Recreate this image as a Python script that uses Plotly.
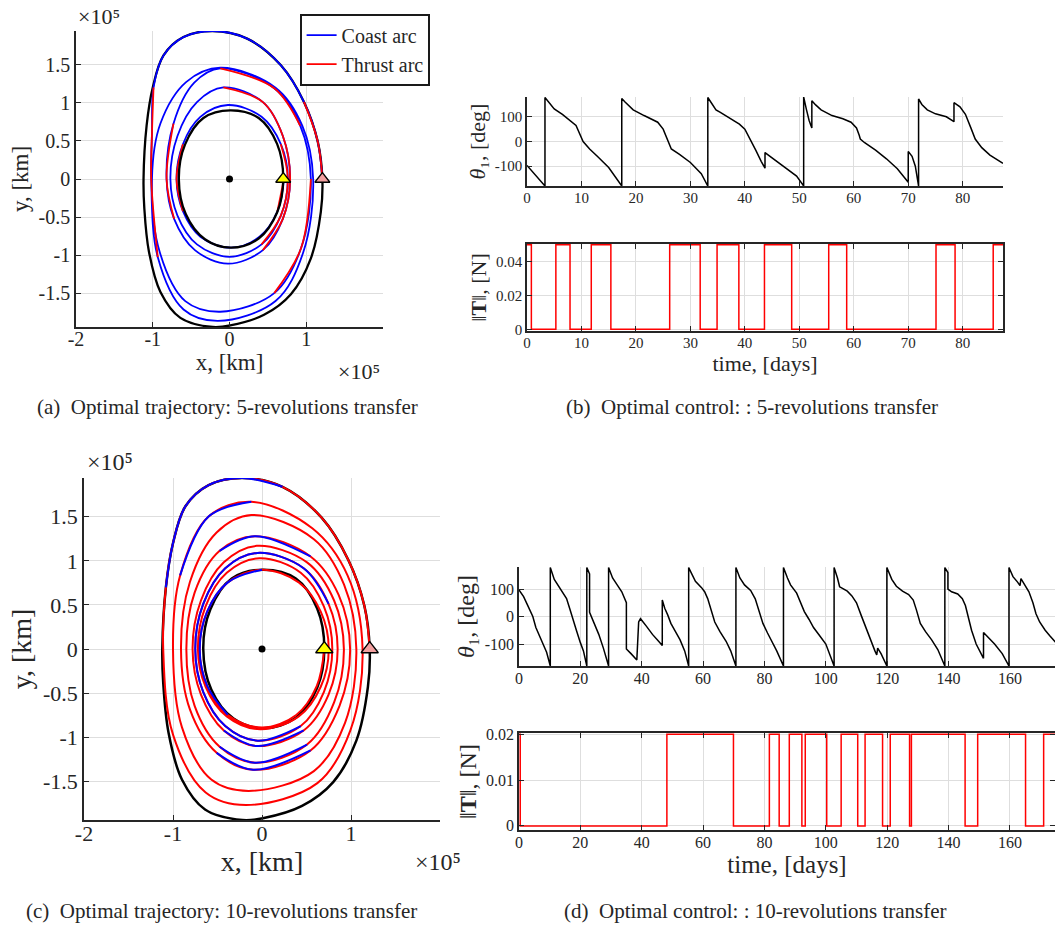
import plotly.graph_objects as go

FONT = "Liberation Serif"
W, H = 1055, 929
INK = "#262626"

# ---------------- data ----------------
# initial (inner) and final (outer) orbits, units of 1e5 km
init_x = [0.70, 0.62, 0.38, 0.02, -0.32, -0.57, -0.66, -0.58, -0.34, 0.01, 0.38, 0.62, 0.70]
init_y = [0.00, -0.44, -0.78, -0.90, -0.79, -0.46, 0.00, 0.45, 0.80, 0.90, 0.80, 0.46, 0.00]
final_x = [1.21, 1.19, 1.06, 0.80, 0.45, 0.01, -0.22, -0.64, -0.90, -1.05, -1.11, -1.12, -1.08, -1.00, -0.86, -0.60, -0.22, 0.23, 0.67, 0.97, 1.15, 1.21]
final_y = [0.00, -0.43, -1.04, -1.51, -1.78, -1.92, -1.94, -1.82, -1.48, -0.95, -0.38, 0.00, 0.70, 1.20, 1.62, 1.86, 1.94, 1.84, 1.49, 1.01, 0.49, 0.00]

start_pt = (0.70, 0.0)
end_pt = (1.21, 0.0)
moon_pt = (0.0, 0.0)

# (a) 5-revolution transfer path
a_x = [0.71, 0.625, 0.391, 0.02, -0.380, -0.607, -0.69, -0.607, -0.380, -0.02, 0.418, 0.669,
       0.76, 0.669, 0.418, 0.0, -0.424, -0.678, -0.77, -0.678, -0.424, -0.08, 0.435, 0.695,
       0.79, 0.695, 0.435, -0.02, -0.451, -0.722, -0.82, -0.730, -0.459, -0.12, 0.583, 0.922,
       1.06, 0.933, 0.583, -0.12, -0.576, -0.909, -1.01, -0.899, -0.566, -0.12, 0.600, 0.948,
       1.09, 0.959, 0.600, -0.15, -0.599, -0.935, -1.02, -1.01, -0.99, -0.86, -0.6, -0.22, 0.23, 0.67, 0.97, 1.15, 1.21]
a_y = [0, -0.423, -0.756, -0.90, -0.756, -0.423, 0, 0.456, 0.815, 0.97, 0.815, 0.456,
       0, -0.479, -0.857, -1.02, -0.857, -0.479, 0, 0.564, 1.008, 1.20, 1.008, 0.564,
       0, -0.522, -0.932, -1.11, -0.932, -0.522, 0, 0.725, 1.262, 1.45, 1.189, 0.696,
       0, -0.905, -1.496, -1.74, -1.601, -0.957, 0, 0.730, 1.270, 1.46, 1.197, 0.701,
       0, -0.967, -1.600, -1.86, -1.711, -1.023, 0, 0.6, 1.2, 1.62, 1.86, 1.94, 1.84, 1.49, 1.01, 0.49, 0]
a_thrust_arcs = [(0, 1), (5, 7), (11, 14), (21, 26), (29, 31), (33, 35), (36, 38), (53, 56), (62, 64)]

# (c) 10-revolution transfer path
c_x = [0.70, 0.616, 0.385, 0.0, -0.385, -0.616, -0.70, -0.616, -0.385, 0.0, 0.413, 0.66,
       0.75, 0.66, 0.413, -0.02, -0.396, -0.634, -0.72, -0.634, -0.396, -0.03, 0.435, 0.695,
       0.79, 0.695, 0.435, -0.05, -0.413, -0.66, -0.75, -0.66, -0.413, -0.05, 0.468, 0.748,
       0.85, 0.748, 0.468, -0.06, -0.429, -0.686, -0.78, -0.686, -0.429, -0.06, 0.506, 0.81,
       0.92, 0.81, 0.506, -0.08, -0.476, -0.757, -0.85, -0.757, -0.476, -0.08, 0.545, 0.861,
       0.99, 0.871, 0.545, -0.10, -0.510, -0.810, -0.91, -0.810, -0.510, -0.12, 0.583, 0.922,
       1.06, 0.933, 0.583, -0.15, -0.57, -0.90, -1.0, -0.92, -0.60, -0.12, 0.565, 0.961,
       1.13, 0.994, 0.622, -0.18, -0.633, -0.999, -1.11, -1.08, -1.0, -0.86, -0.6, -0.22, 0.23, 0.67, 0.97, 1.15, 1.21]
c_y = [0, -0.418, -0.748, -0.89, -0.748, -0.418, 0, 0.423, 0.756, 0.90, 0.756, 0.423,
       0, -0.428, -0.764, -0.91, -0.764, -0.428, 0, 0.484, 0.865, 1.03, 0.865, 0.484,
       0, -0.489, -0.874, -1.04, -0.874, -0.489, 0, 0.512, 0.916, 1.09, 0.916, 0.512,
       0, -0.517, -0.924, -1.10, -0.924, -0.517, 0, 0.550, 0.983, 1.17, 0.983, 0.550,
       0, -0.606, -1.084, -1.29, -1.109, -0.645, 0, 0.64, 1.114, 1.28, 1.05, 0.614,
       0, -0.644, -1.151, -1.37, -1.178, -0.685, 0, 0.760, 1.322, 1.52, 1.246, 0.730,
       0, -0.837, -1.385, -1.61, -1.481, -0.886, 0, 0.835, 1.503, 1.67, 1.369, 0.835,
       0, -0.920, -1.522, -1.77, -1.628, -0.974, 0, 0.7, 1.2, 1.62, 1.86, 1.94, 1.84, 1.49, 1.01, 0.49, 0]
c_coast_arcs = [(4, 9), (26, 35), (38, 40), (50, 52), (56, 58), (62, 64), (79, 81), (91, 96)]

# (b) control, 5 revolutions
b_t = [0, 3.3, 3.3, 4.0, 5.0, 6.5, 8.0, 9.0, 10.3, 11.5, 13.0, 15.0, 17.4,
       17.4, 18.0, 19.5, 21.5, 24.0, 25.0, 25.7, 26.5, 28.0, 30.0, 32.0, 33.2,
       33.2, 34.0, 34.7, 35.5, 37.5, 39.0, 40.0, 41.0, 42.0, 43.0, 43.7,
       43.7, 45.5, 47.5, 49.5, 50.8,
       50.8, 51.3, 51.8, 52.3, 52.3, 53.0, 54.0, 56.0, 58.0, 59.5, 60.5, 61.0, 61.2, 62.0, 64.0, 66.0, 68.0, 70.0,
       70.0, 70.7, 71.3, 71.9,
       71.9, 72.5, 73.5, 75.0, 77.0, 78.4, 78.4, 79.5, 80.5, 81.5, 82.3, 83.5, 85.0, 87.4]
b_theta = [-97, -180, 178, 160, 132, 110, 84, 65, 0, -30, -62, -105, -180,
           174, 160, 128, 105, 78, 50, 10, -30, -52, -85, -130, -180,
           178, 150, 128, 118, 92, 70, 50, 10, -35, -80, -108,
           -45, -75, -105, -140, -180,
           180, 130, 85, 55, 165, 148, 128, 105, 92, 78, 55, 25, 10, -5, -35, -70, -110, -165,
           -40, -60, -100, -180,
           172, 150, 128, 112, 100, 80, 157, 140, 110, 55, 10, -25, -55, -88]
b_switch_t = [0, 0.8, 5.3, 7.9, 11.8, 15.4, 26.2, 31.8, 34.9, 38.9, 43.6, 48.6, 55.4, 58.7, 75.1, 78.6, 85.6, 87.4]
b_switch_T = [0.05, 0, 0.05, 0, 0.05, 0, 0.05, 0, 0.05, 0, 0.05, 0, 0.05, 0, 0.05, 0, 0.05, 0.05]

# (d) control, 10 revolutions
d_t = [0, 1.5, 2.6, 3.5, 4.5, 5.5, 6.5, 8.0, 9.0, 10.2,
       10.2, 11.5, 12.5, 14.0, 15.5, 16.5, 17.5, 18.7, 20.0, 21.0, 22.1,
       22.1, 22.8, 23.0, 23.0, 24.5, 26.0, 27.5, 29.2,
       29.2, 30.5, 32.0, 33.5, 35.0, 35.0, 36.5, 37.5, 38.4, 39.0, 39.6, 41.5, 43.5, 45.5, 46.7,
       46.7, 47.5, 48.5, 49.5, 51.0, 52.5, 54.0, 55.3,
       55.3, 56.5, 57.5, 59.5, 60.5, 61.5, 62.5, 63.8, 65.5, 67.5, 69.0, 70.7,
       70.7, 72.0, 73.5, 75.5, 77.0, 78.5, 79.5, 81.0, 82.0, 82.5, 84.0, 86.2,
       86.2, 87.5, 88.5, 90.5, 92.0, 93.0, 94.5, 96.0, 98.0, 100.0, 102.7,
       102.7, 103.8, 104.5, 105.0, 107.0, 108.5, 110.0, 111.5, 113.0, 114.5, 116.0, 116.6, 116.9, 118.0, 119.9,
       119.9, 121.5, 123.0, 125.0, 127.0, 128.5, 129.5, 130.8, 132.5, 134.5, 136.5, 138.8,
       138.8, 139.8, 139.8, 141.0, 143.0, 144.5, 145.5, 146.5, 147.5, 149.0, 150.5, 151.4,
       151.4, 153.0, 155.0, 157.5, 159.7,
       159.7, 161.0, 162.5, 163.3, 163.6, 165.0, 166.2, 167.5, 168.5, 169.7, 171.5, 173.0, 175.0]
d_theta = [97, 72, 46, 25, 0, -40, -65, -100, -130, -180,
           178, 135, 118, 95, 65, 30, -10, -50, -95, -125, -180,
           178, 160, 155, 15, -25, -65, -115, -180,
           178, 140, 115, 90, 50, -118, -135, -148, -158, -20, -8, -35, -65, -90, -105,
           60, 30, 5, -25, -55, -85, -125, -180,
           178, 150, 128, 105, 90, 65, 30, -20, -55, -90, -125, -180,
           178, 140, 115, 95, 64, 15, -25, -60, -80, -95, -125, -180,
           178, 140, 115, 85, 45, 18, -10, -40, -70, -100, -180,
           178, 140, 108, 105, 92, 75, 50, 5, -40, -80, -125, -140, -115, -135, -180,
           178, 135, 110, 92, 80, 60, 25, -25, -55, -85, -120, -180,
           178, 160, 100, 90, 82, 65, 40, -5, -50, -100, -130, -152,
           -58, -75, -100, -135, -180,
           178, 145, 125, 112, 138, 110, 90, 50, 10, -20, -50, -70, -95]
d_switch_t = [0, 0.4, 48.2, 69.9, 81.6, 84.8, 88.1, 92.2, 93.3, 100.3, 105.0, 110.4, 112.8, 118.5,
              121.0, 127.3, 127.9, 145.4, 149.5, 165.1, 171.0, 175.0]
d_switch_T = [0.02, 0, 0.02, 0, 0.02, 0, 0.02, 0, 0.02, 0, 0.02, 0, 0.02, 0,
              0.02, 0, 0.02, 0, 0.02, 0, 0.02, 0.02]

traj_ticks_x = [-2, -1, 0, 1]
traj_ticks_y = [-1.5, -1, -0.5, 0, 0.5, 1, 1.5]
theta_ticks = [-100, 0, 100]
b_time_ticks = [0, 10, 20, 30, 40, 50, 60, 70, 80]
d_time_ticks = [0, 20, 40, 60, 80, 100, 120, 140, 160]
b_T_ticks = [0, 0.02, 0.04]
d_T_ticks = [0, 0.01, 0.02]


def lbl(v):
    return "%g" % v


# ---------------- figure ----------------
fig = go.Figure()


def curve(x, y, color, width, xa, ya, name=None, legend=False, shape="spline"):
    line = dict(color=color, width=width, shape=shape)
    if shape == "spline":
        line["smoothing"] = 1.0
    return go.Scatter(x=x, y=y, mode="lines", xaxis=xa, yaxis=ya, name=name,
                      showlegend=legend, hoverinfo="skip", line=line)


def markers(xa, ya, size):
    return [go.Scatter(x=[moon_pt[0]], y=[moon_pt[1]], mode="markers", xaxis=xa, yaxis=ya,
                       showlegend=False, hoverinfo="skip",
                       marker=dict(symbol="circle", size=7, color="black")),
            go.Scatter(x=[start_pt[0]], y=[start_pt[1]], mode="markers", xaxis=xa, yaxis=ya,
                       showlegend=False, hoverinfo="skip",
                       marker=dict(symbol="triangle-up", size=size, color="#ffff00",
                                   line=dict(color="black", width=1.3))),
            go.Scatter(x=[end_pt[0]], y=[end_pt[1]], mode="markers", xaxis=xa, yaxis=ya,
                       showlegend=False, hoverinfo="skip",
                       marker=dict(symbol="triangle-up", size=size, color="#f2a0a0",
                                   line=dict(color="black", width=1.3)))]


# panel (a)
fig.add_trace(curve(final_x, final_y, "black", 2.3, "x", "y"))
fig.add_trace(curve(a_x, a_y, "#0000ff", 1.8, "x", "y", name="Coast arc", legend=True))
for k, (i, j) in enumerate(a_thrust_arcs):
    fig.add_trace(curve(a_x[i:j + 1], a_y[i:j + 1], "#ff0000", 1.8, "x", "y",
                        name="Thrust arc", legend=(k == 0)))
fig.add_trace(curve(init_x, init_y, "black", 2.3, "x", "y"))
for t in markers("x", "y", 13):
    fig.add_trace(t)

# panel (c)
fig.add_trace(curve(final_x, final_y, "black", 2.5, "x4", "y4"))
fig.add_trace(curve(init_x, init_y, "black", 2.5, "x4", "y4"))
fig.add_trace(curve(c_x, c_y, "#ff0000", 2.0, "x4", "y4"))
for (i, j) in c_coast_arcs:
    fig.add_trace(curve(c_x[i:j + 1], c_y[i:j + 1], "#0000ff", 2.0, "x4", "y4"))
for t in markers("x4", "y4", 15):
    fig.add_trace(t)

# panel (b)
fig.add_trace(curve(b_t, b_theta, "black", 1.5, "x2", "y2", shape="linear"))
fig.add_trace(curve(b_switch_t, b_switch_T, "#ff0000", 1.5, "x3", "y3", shape="hv"))
# panel (d)
fig.add_trace(curve(d_t, d_theta, "black", 1.5, "x5", "y5", shape="linear"))
fig.add_trace(curve(d_switch_t, d_switch_T, "#ff0000", 1.5, "x6", "y6", shape="hv"))


def px_x(a, b):
    return [a / W, b / W]


def px_y(top, bottom):
    return [1 - bottom / H, 1 - top / H]


def axis(domain, rng, ticks, size, anchor, mirror=False, title=None, tsize=22, standoff=4, lstand=0):
    d = dict(domain=domain, range=rng, tickmode="array", tickvals=ticks,
             ticktext=[lbl(v) for v in ticks],
             tickfont=dict(family=FONT, size=size, color=INK),
             showline=True, linecolor=INK, linewidth=1.6, mirror=mirror,
             ticks="inside", ticklen=5, tickwidth=1.1, tickcolor=INK,
             showgrid=True, gridcolor="#dedede", gridwidth=1.2, zeroline=False,
             anchor=anchor, fixedrange=True, automargin=False,
             ticklabelstandoff=lstand)
    if title:
        d["title"] = dict(text=title, font=dict(family=FONT, size=tsize, color=INK), standoff=standoff)
    return d


theta_title = "<i>θ</i>\u2081, [deg]"
thrust_title = "‖<b>T</b>‖, [N]"

fig.update_layout(
    width=W, height=H, autosize=False,
    margin=dict(l=0, r=0, t=0, b=0, autoexpand=False),
    paper_bgcolor="white", plot_bgcolor="white",
    hovermode=False,
    font=dict(family=FONT, color=INK),
    # (a)
    xaxis=axis(px_x(76, 383), [-2, 2], traj_ticks_x, 20, "y", title="x, [km]", tsize=23, standoff=2, lstand=-7),
    yaxis=axis(px_y(31, 327), [-1.94, 1.94], traj_ticks_y, 20, "x", title="y, [km]", tsize=23, standoff=3),
    # (b)
    xaxis2=axis(px_x(527, 1003), [0, 87.4], b_time_ticks, 15, "y2", lstand=-3),
    yaxis2=axis(px_y(97, 186), [-180, 180], theta_ticks, 15, "x2", title=theta_title, tsize=22, standoff=3),
    xaxis3=axis(px_x(527, 1003), [0, 87.4], b_time_ticks, 15, "y3", mirror="ticks",
                title="time, [days]", tsize=22, standoff=2, lstand=-3),
    yaxis3=axis(px_y(244, 331), [-0.001, 0.0505], b_T_ticks, 15, "x3", mirror="ticks",
                title=thrust_title, tsize=22, standoff=3),
    # (c)
    xaxis4=axis(px_x(84, 440), [-2, 2], traj_ticks_x, 22, "y4", title="x, [km]", tsize=28, standoff=2, lstand=-7),
    yaxis4=axis(px_y(478, 820), [-1.94, 1.94], traj_ticks_y, 22, "x4", title="y, [km]", tsize=28, standoff=3),
    # (d)
    xaxis5=axis(px_x(519, 1055), [0, 174.7], d_time_ticks, 16, "y5", lstand=-3),
    yaxis5=axis(px_y(567, 666), [-180, 180], theta_ticks, 16, "x5", title=theta_title, tsize=24, standoff=3),
    xaxis6=axis(px_x(519, 1055), [0, 174.7], d_time_ticks, 16, "y6", mirror="ticks",
                title="time, [days]", tsize=25, standoff=4, lstand=-3),
    yaxis6=axis(px_y(733, 830), [-0.0009, 0.0203], d_T_ticks, 16, "x6", mirror="ticks",
                title=thrust_title, tsize=24, standoff=3),
    legend=dict(x=300 / W, y=1 - 14 / H, xanchor="left", yanchor="top",
                bgcolor="white", bordercolor="#1a1a1a", borderwidth=1.6,
                font=dict(family=FONT, size=20, color=INK),
                itemwidth=30, tracegroupgap=0),
)

ann = []


def note(text, x, y, size, xanchor="center", yanchor="middle"):
    ann.append(dict(text=text, x=x / W, y=1 - y / H, xref="paper", yref="paper",
                    xanchor=xanchor, yanchor=yanchor, showarrow=False,
                    font=dict(family=FONT, size=size, color=INK)))


times10 = "×10\u2075"
note(times10, 76, 17, 22, xanchor="left")
note(times10, 382, 371, 22, xanchor="right")
note(times10, 85, 462, 24, xanchor="left")
note(times10, 463, 862, 24, xanchor="right")

sp = "\u00a0\u00a0"
note("(a)" + sp + "Optimal trajectory: 5-revolutions transfer", 227, 407, 21)
note("(b)" + sp + "Optimal control: : 5-revolutions transfer", 752, 407, 21)
note("(c)" + sp + "Optimal trajectory: 10-revolutions transfer", 221, 911, 21)
note("(d)" + sp + "Optimal control: : 10-revolutions transfer", 755, 911, 21)

fig.update_layout(annotations=ann)

fig.write_html("out.html")
